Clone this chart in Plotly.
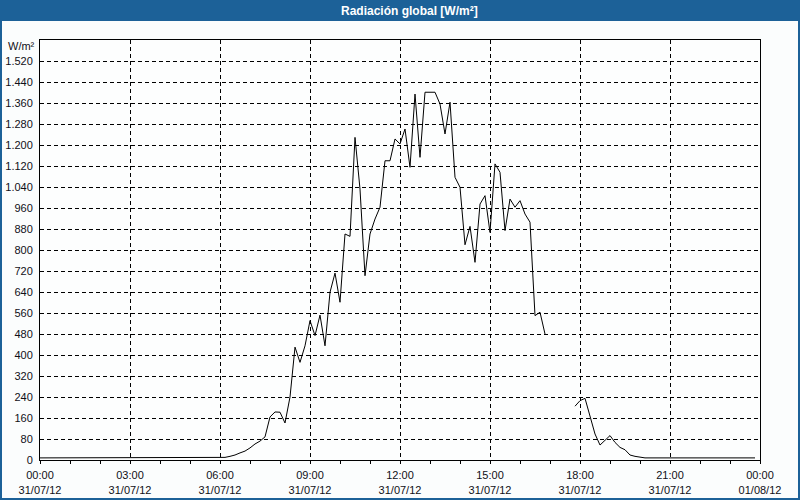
import plotly.graph_objects as go
from datetime import datetime, timedelta

# 10-minute timestamps for 31/07/12
start = datetime(2012, 7, 31, 0, 0)
times = [(start + timedelta(minutes=10 * i)).strftime("%Y-%m-%d %H:%M") for i in range(144)]

night_early = [8, 8, 8, 8, 8, 8, 8, 8, 8, 8, 8, 8,
               8, 8, 8, 8, 8, 8, 8, 8, 8, 8, 8, 8,
               8, 8, 8, 8, 8, 8, 8, 8, 8, 8, 8, 8]          # 00:00-05:50
day = [9, 10, 14, 19, 27, 34,                                # 06:00-06:50
       46, 61, 72, 88, 164, 183,                             # 07:00-07:50
       182, 141, 240, 430, 372, 435,                         # 08:00-08:50
       531, 474, 552, 435, 639, 712,                         # 09:00-09:50
       601, 861, 852, 1229, 1032, 702,                       # 10:00-10:50
       861, 918, 963, 1140, 1140, 1223,                      # 11:00-11:50
       1204, 1261, 1115, 1394, 1153, 1401,                   # 12:00-12:50
       1401, 1401, 1356, 1242, 1363, 1077,                   # 13:00-13:50
       1039, 820, 890, 753, 975, 1007,                       # 14:00-14:50
       867, 1128, 1096, 874, 994, 963,                       # 15:00-15:50
       988, 937, 906, 550, 563, 480,                         # 16:00-16:50
       None, None, None, None, None, 205,                    # 17:00-17:50
       226, 235, 163, 99, 57, 74,                            # 18:00-18:50
       93, 67, 48, 39, 19, 14,                               # 19:00-19:50
       10]                                                   # 20:00
night_late = [8, 8, 8, 8, 8, 8, 8, 8, 8, 8, 8, 8,
              8, 8, 8, 8, 8, 8, 8, 8, 8, 8, 8]               # 20:10-23:50
radiation = night_early + day + night_late

x_tickvals = ["2012-07-31 00:00", "2012-07-31 03:00", "2012-07-31 06:00", "2012-07-31 09:00",
              "2012-07-31 12:00", "2012-07-31 15:00", "2012-07-31 18:00", "2012-07-31 21:00",
              "2012-08-01 00:00"]
x_ticktext = ["00:00<br>31/07/12", "03:00<br>31/07/12", "06:00<br>31/07/12", "09:00<br>31/07/12",
              "12:00<br>31/07/12", "15:00<br>31/07/12", "18:00<br>31/07/12", "21:00<br>31/07/12",
              "00:00<br>01/08/12"]
y_tickvals = [0, 80, 160, 240, 320, 400, 480, 560, 640, 720, 800, 880, 960, 1040,
              1120, 1200, 1280, 1360, 1440, 1520]
y_ticktext = ["0", "80", "160", "240", "320", "400", "480", "560", "640", "720", "800", "880",
              "960", "1.040", "1.120", "1.200", "1.280", "1.360", "1.440", "1.520"]

title_text = "Radiación global [W/m²]"
unit_text = "W/m²"

W, H = 800, 500
L, R, T, B = 40, 40, 40, 40
pw, ph = W - L - R, H - T - B


def px(xp):
    return (xp - L) / pw


def py(yp):
    return (H - B - yp) / ph


fig = go.Figure()
fig.add_trace(go.Scatter(x=times, y=radiation, mode="lines",
                         line=dict(color="black", width=1), connectgaps=False,
                         hoverinfo="skip", showlegend=False))

font_main = dict(family="Liberation Sans, Arial, sans-serif", size=11, color="#101018")
blue = "#1c6198"

fig.update_layout(
    width=W, height=H,
    margin=dict(l=L, r=R, t=T, b=B, autoexpand=False),
    paper_bgcolor="#fbfdfd", plot_bgcolor="#fdfefe",
    showlegend=False,
    xaxis=dict(range=["2012-07-31 00:00", "2012-08-01 00:00"], automargin=False,
               tickvals=x_tickvals, ticktext=x_ticktext, tickfont=font_main,
               ticks="outside", ticklen=3, tickcolor="black", ticklabelstandoff=2,
               minor=dict(dtick=3600000, ticks="outside", ticklen=3, tickcolor="black", showgrid=False),
               showgrid=True, gridcolor="black", gridwidth=1, griddash="4px,3px",
               showline=True, linecolor="black", linewidth=1, mirror=True, zeroline=False),
    yaxis=dict(range=[0, 1600], automargin=False,
               tickvals=y_tickvals, ticktext=y_ticktext, tickfont=font_main,
               ticks="", ticklabelstandoff=4,
               showgrid=True, gridcolor="black", gridwidth=1, griddash="4px,3px",
               showline=True, linecolor="black", linewidth=1, mirror=True, zeroline=False),
    shapes=[
        dict(type="rect", xref="paper", yref="paper", x0=px(0), x1=px(800), y0=py(21), y1=py(0),
             fillcolor=blue, line=dict(width=0), layer="above"),
        dict(type="rect", xref="paper", yref="paper", x0=px(1), x1=px(799), y0=py(499), y1=py(0),
             fillcolor="rgba(0,0,0,0)", line=dict(color=blue, width=2), layer="above"),
    ],
    annotations=[
        dict(text="<b>" + title_text + "</b>", xref="paper", yref="paper", x=px(410), y=py(10.5),
             xanchor="center", yanchor="middle", showarrow=False,
             font=dict(family="Liberation Sans, Arial, sans-serif", size=12, color="white")),
        dict(text=unit_text, xref="paper", yref="paper", x=px(37), y=py(46),
             xanchor="right", yanchor="middle", showarrow=False, font=font_main),
    ],
)

fig.write_html("out.html", config={"displayModeBar": False},
               post_script="document.body.style.margin='0';")
